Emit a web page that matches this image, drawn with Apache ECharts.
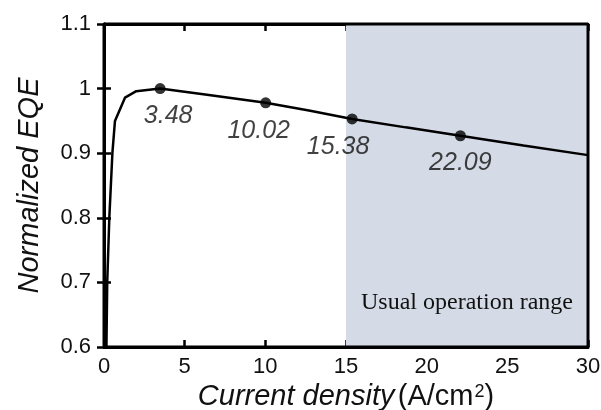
<!DOCTYPE html>
<html>
<head>
<meta charset="utf-8">
<script src="https://cdn.jsdelivr.net/npm/echarts@6/dist/echarts.min.js"></script>
<style>
  html, body { margin: 0; padding: 0; background: #fff; }
  #chart { width: 601px; height: 410px; }
</style>
</head>
<body>
<div id="chart"></div>
<script>
// EQE curve
const currentDensity = [0.15, 0.2, 0.33, 0.52, 0.68, 1.3, 2.0, 3.48, 6.5, 10.02, 12.7, 15.38, 18.7, 22.09, 26.0, 30];
const normEQE = [0.6, 0.7, 0.8, 0.9, 0.95, 0.986, 0.996, 1.0, 0.99, 0.978, 0.966, 0.953, 0.94, 0.927, 0.912, 0.897];
// marked points with their labels
const markedX = [3.48, 10.02, 15.38, 22.09];
const markedY = [1.0, 0.978, 0.953, 0.927];
const labelShift = [[8, 27], [-7, 28], [-14, 28], [0, 27]];
const rangeStart = 15;
const rangeEnd = 30;
const rangeText = 'Usual operation range';
// axis ranges
const xMin = 0, xMax = 30, xStep = 5;
const yMin = 0.6, yMax = 1.1, yStep = 0.1;

const sans = 'Liberation Sans, Arial, sans-serif';
const ink = '#000';
const textInk = '#111';

const chart = echarts.init(document.getElementById('chart'));

function xAxisOf(pos, extra) {
    return Object.assign({
        type: 'value', min: xMin, max: xMax, interval: xStep, position: pos,
        axisLine: { show: true, lineStyle: { color: ink, width: 3 } },
        axisTick: { show: true, inside: true, length: 7, lineStyle: { color: ink, width: 2.5 } },
        splitLine: { show: false }
    }, extra);
}
function yAxisOf(pos, extra) {
    return Object.assign({
        type: 'value', min: yMin, max: yMax, interval: yStep, position: pos,
        axisLine: { show: true, lineStyle: { color: ink, width: 3 } },
        axisTick: { show: true, inside: true, length: 7, lineStyle: { color: ink, width: 2.5 } },
        splitLine: { show: false }
    }, extra);
}

const option = {
    animation: false,
    backgroundColor: '#fff',
    grid: { left: 104, top: 24, right: 13, bottom: 63, outerBoundsMode: 'none', containLabel: false },
    xAxis: [
        xAxisOf('bottom', {
            axisLabel: { color: textInk, fontSize: 22, fontFamily: sans, margin: 9 },
            name: '{i|Current density} {n|(A/cm}{s|2}{n|)}',
            nameLocation: 'middle',
            nameGap: 31,
            nameTextStyle: {
                color: textInk, fontFamily: sans,
                rich: {
                    i: { fontSize: 29, fontStyle: 'italic', fontFamily: sans, color: textInk },
                    n: { fontSize: 29, fontFamily: sans, color: textInk },
                    s: { fontSize: 18, fontFamily: sans, color: textInk, verticalAlign: 'top', padding: [0, 0, 0, 1] }
                }
            }
        }),
        xAxisOf('top', { axisLabel: { show: false } })
    ],
    yAxis: [
        yAxisOf('left', {
            axisLabel: { color: textInk, fontSize: 22, fontFamily: sans, margin: 13 },
            name: 'Normalized EQE',
            nameLocation: 'middle',
            nameGap: 60,
            nameTextStyle: { color: textInk, fontSize: 29, fontStyle: 'italic', fontFamily: sans }
        }),
        yAxisOf('right', { axisLabel: { show: false } })
    ],
    series: [
        {
            type: 'line',
            data: currentDensity.map((x, i) => [x, normEQE[i]]),
            symbol: 'none',
            lineStyle: { color: '#000', width: 2.5 },
            markArea: {
                silent: true,
                itemStyle: { color: '#d5dbe6' },
                label: {
                    show: true,
                    position: 'insideBottom',
                    distance: 32,
                    formatter: rangeText,
                    color: textInk,
                    fontSize: 24,
                    fontFamily: 'Liberation Serif, Times New Roman, serif'
                },
                data: [[{ xAxis: rangeStart }, { xAxis: rangeEnd }]]
            }
        },
        {
            // plot frame, drawn through the axes on top of the shaded range
            type: 'line',
            data: [[xMin, yMin], [xMax, yMin], [xMax, yMax], [xMin, yMax], [xMin, yMin]],
            symbol: 'none',
            clip: false,
            z: 5,
            lineStyle: { color: ink, width: 3 }
        },
        {
            type: 'scatter',
            data: markedX.map((x, i) => [x, markedY[i]]),
            symbol: 'circle',
            symbolSize: 11,
            itemStyle: { color: '#000' },
            z: 6,
            label: {
                show: true,
                position: 'inside',
                formatter: p => markedX[p.dataIndex].toFixed(2),
                color: textInk,
                fontSize: 25,
                fontStyle: 'italic',
                fontFamily: sans
            },
            labelLayout: p => ({
                dx: labelShift[p.dataIndex][0],
                dy: labelShift[p.dataIndex][1]
            })
        }
    ]
};

chart.setOption(option);
</script>
</body>
</html>
